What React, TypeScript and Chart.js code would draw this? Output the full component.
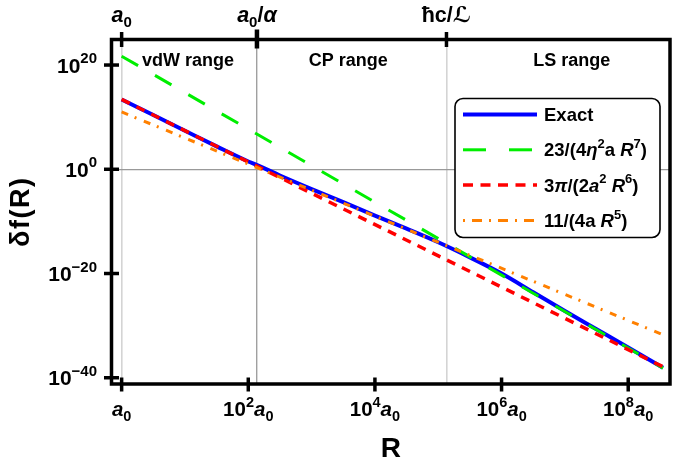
import { useEffect, useRef } from "react";
import { Chart, registerables } from "chart.js";

Chart.register(...registerables);

// ---- data (log10 values: x = log10(R/a0), y = log10 δf) ----
const exactLogR = [0, 0.5, 1, 1.5, 2, 2.14, 2.5, 3, 3.5, 4, 4.5, 5, 5.5, 6, 6.5, 7, 7.5, 8, 8.55];
const exactLogF = [13.4, 10.4, 7.4, 4.4, 1.5, 0.8, -1.2, -3.8, -6.3, -8.9, -11.4, -14.0, -16.9, -20.0, -23.6, -27.2, -30.7, -34.2, -38.1];
const lsLogR = [0, 8.55];
const lsLogF = [21.7, -38.15];
const vdwLogR = [0, 8.55];
const vdwLogF = [13.4, -37.9];
const cpLogR = [0, 8.55];
const cpLogF = [11.0, -31.75];

const bottomTickExps = [0, 2, 4, 6, 8];
const leftTickExps = [-40, -20, 0, 20];
const topTickValues = [0, 2.137, 5.13];
const rangeNames = ["vdW range", "CP range", "LS range"];
const rangeCentersLogR = [1.05, 3.58, 7.11];
const rangeLabelLogF = 21.0;

type Seg = { t: string; it?: boolean; sup?: boolean; sub?: boolean };

const topTickLabels: Seg[][] = [
  [{ t: "a", it: true }, { t: "0", sub: true }],
  [{ t: "a", it: true }, { t: "0", sub: true }, { t: "/" }, { t: "α", it: true }],
  [{ t: "ħc/ℒ" }],
];

const legendLabels: Seg[][] = [
  [{ t: "Exact" }],
  [{ t: "23/(4" }, { t: "η", it: true }, { t: "2", sup: true }, { t: "a " }, { t: "R", it: true }, { t: "7", sup: true }, { t: ")" }],
  [{ t: "3" }, { t: "π", it: true }, { t: "/(2" }, { t: "a", it: true }, { t: "2", sup: true }, { t: " " }, { t: "R", it: true }, { t: "6", sup: true }, { t: ")" }],
  [{ t: "11/(4a " }, { t: "R", it: true }, { t: "5", sup: true }, { t: ")" }],
];

const seriesColors = ["#0000ff", "#00ee00", "#ff0000", "#ff8000"];
const seriesWidths = [4, 3, 3.5, 3];
const seriesDash: number[][] = [[], [19, 19.5], [9, 7.5], [7, 7, 2, 8]];
const legendDash: number[][] = [[], [23, 23], [10, 7.5], [2, 7, 10, 7]];

const FAMILY = "'Liberation Sans', 'DejaVu Sans', sans-serif";

function segFont(s: Seg, size: number, small: number) {
  return `${s.it ? "italic " : ""}bold ${s.sup || s.sub ? small : size}px ${FAMILY}`;
}

function drawRich(
  ctx: CanvasRenderingContext2D,
  segs: Seg[],
  x: number,
  y: number,
  align: "left" | "center" | "right",
  size = 18,
  small = 13
) {
  ctx.save();
  ctx.textAlign = "left";
  ctx.textBaseline = "alphabetic";
  const widths = segs.map((s) => {
    ctx.font = segFont(s, size, small);
    return ctx.measureText(s.t).width;
  });
  const total = widths.reduce((a, b) => a + b, 0);
  let cx = align === "center" ? x - total / 2 : align === "right" ? x - total : x;
  const up = size * 0.45;
  const down = size * 0.25;
  segs.forEach((s, i) => {
    ctx.font = segFont(s, size, small);
    const dy = s.sup ? -up : s.sub ? down : 0;
    ctx.fillText(s.t, cx, y + dy);
    cx += widths[i];
  });
  ctx.restore();
}

const toPts = (xs: number[], ys: number[]) => xs.map((x, i) => ({ x, y: ys[i] }));

const decorPlugin = {
  id: "decor",
  afterDatasetsDraw(chart: any) {
    const ctx: CanvasRenderingContext2D = chart.ctx;
    const { left, right, top, bottom } = chart.chartArea;
    const xs = chart.scales.x;
    const ys = chart.scales.y;
    ctx.save();
    ctx.fillStyle = "#000";
    ctx.strokeStyle = "#000";

    // range labels
    rangeNames.forEach((name, i) => {
      drawRich(ctx, [{ t: name }], xs.getPixelForValue(rangeCentersLogR[i]), ys.getPixelForValue(rangeLabelLogF) + 6, "center");
    });

    // legend
    const lw = 205, lh = 139;
    const lx = right - 10 - lw;
    const ly = top + 59;
    ctx.beginPath();
    ctx.roundRect(lx, ly, lw, lh, 8);
    ctx.fillStyle = "#fff";
    ctx.fill();
    ctx.lineWidth = 1.6;
    ctx.strokeStyle = "#000";
    ctx.stroke();
    legendLabels.forEach((lab, i) => {
      const cy = ly + 16 + i * 35.3;
      ctx.save();
      ctx.beginPath();
      ctx.setLineDash(legendDash[i]);
      ctx.lineWidth = seriesWidths[i];
      ctx.strokeStyle = seriesColors[i];
      ctx.moveTo(lx + 8, cy);
      ctx.lineTo(lx + 82, cy);
      ctx.stroke();
      ctx.restore();
      ctx.fillStyle = "#000";
      drawRich(ctx, lab, lx + 89, cy + 6.5, "left", 18.5, 13);
    });

    // frame
    ctx.setLineDash([]);
    ctx.lineWidth = 3.5;
    ctx.strokeStyle = "#000";
    ctx.strokeRect(left, top, right - left, bottom - top);

    // bottom ticks + labels
    bottomTickExps.forEach((e) => {
      const px = xs.getPixelForValue(e);
      ctx.lineWidth = 3.5;
      ctx.beginPath();
      ctx.moveTo(px, bottom - 6.5);
      ctx.lineTo(px, bottom + 7.5);
      ctx.stroke();
      const segs: Seg[] =
        e === 0
          ? [{ t: "a", it: true }, { t: "0", sub: true }]
          : [{ t: "10" }, { t: String(e), sup: true }, { t: "a", it: true }, { t: "0", sub: true }];
      drawRich(ctx, segs, px, bottom + 32, "center", 20.5, 14.5);
    });

    // left ticks + labels
    leftTickExps.forEach((e) => {
      const py = ys.getPixelForValue(e);
      ctx.lineWidth = 3.5;
      ctx.beginPath();
      ctx.moveTo(left - 7.5, py);
      ctx.lineTo(left + 7.5, py);
      ctx.stroke();
      const sup = e < 0 ? "\u2212" + String(-e) : String(e);
      drawRich(ctx, [{ t: "10" }, { t: sup, sup: true }], left - 14.5, py + 7.5, "right", 21, 15);
    });

    // top ticks + labels
    topTickValues.forEach((v, i) => {
      const px = xs.getPixelForValue(v);
      const big = i === 1;
      ctx.lineWidth = big ? 4.5 : 3.5;
      ctx.beginPath();
      ctx.moveTo(px, top - (big ? 10 : 7.5));
      ctx.lineTo(px, top + (big ? 9 : 7.5));
      ctx.stroke();
      drawRich(ctx, topTickLabels[i], px, top - 18, "center", 21.5, 15);
    });

    // axis titles
    ctx.fillStyle = "#000";
    ctx.font = `bold 28px ${FAMILY}`;
    ctx.textAlign = "center";
    ctx.textBaseline = "alphabetic";
    ctx.fillText("R", (left + right) / 2, 457);

    ctx.save();
    ctx.translate(29, (top + bottom) / 2);
    ctx.rotate(-Math.PI / 2);
    ctx.font = `bold 27px ${FAMILY}`;
    (ctx as any).letterSpacing = "1.5px";
    ctx.textAlign = "center";
    ctx.fillText("δf(R)", 0, 0);
    ctx.restore();

    ctx.restore();
  },
};

export default function App() {
  const ref = useRef<HTMLCanvasElement>(null);
  useEffect(() => {
    const canvas = ref.current!;
    const chart = new Chart(canvas, {
      type: "line",
      data: {
        datasets: [
          { label: "Exact", data: toPts(exactLogR, exactLogF), borderColor: seriesColors[0], borderWidth: seriesWidths[0], borderDash: seriesDash[0], pointRadius: 0, order: 4, cubicInterpolationMode: "monotone" },
          { label: "23/(4η²a R⁷)", data: toPts(lsLogR, lsLogF), borderColor: seriesColors[1], borderWidth: seriesWidths[1], borderDash: seriesDash[1], pointRadius: 0, order: 3 },
          { label: "3π/(2a² R⁶)", data: toPts(vdwLogR, vdwLogF), borderColor: seriesColors[2], borderWidth: seriesWidths[2], borderDash: seriesDash[2], pointRadius: 0, order: 2 },
          { label: "11/(4a R⁵)", data: toPts(cpLogR, cpLogF), borderColor: seriesColors[3], borderWidth: seriesWidths[3], borderDash: seriesDash[3], pointRadius: 0, order: 1 },
        ] as any,
      },
      options: {
        responsive: false,
        animation: false,
        events: [],
        layout: { padding: { left: 0, right: 3, top: 0, bottom: 0 } },
        plugins: { legend: { display: false }, tooltip: { enabled: false } },
        scales: {
          x: {
            type: "linear",
            position: "bottom",
            min: -0.16,
            max: 8.66,
            grid: { display: false },
            border: { display: false },
            ticks: { display: false },
            afterBuildTicks: (s: any) => { s.ticks = bottomTickExps.map((v) => ({ value: v })); },
            afterFit: (s: any) => { s.height = 81; },
          },
          xTop: {
            type: "linear",
            position: "top",
            min: -0.16,
            max: 8.66,
            grid: {
              drawOnChartArea: true,
              drawTicks: false,
              color: (c: any) => (c.index === 1 ? "#a0a0a0" : "#d4d4d4"),
              lineWidth: (c: any) => (c.index === 1 ? 1.4 : 1.6),
            },
            border: { display: false },
            ticks: { display: false },
            afterBuildTicks: (s: any) => { s.ticks = topTickValues.map((v) => ({ value: v })); },
            afterFit: (s: any) => { s.height = 39.5; },
          },
          y: {
            type: "linear",
            min: -41.2,
            max: 24.9,
            grid: {
              drawTicks: false,
              color: (c: any) => (c.tick && c.tick.value === 0 ? "#999999" : "rgba(0,0,0,0)"),
              lineWidth: 1.2,
            },
            border: { display: false },
            ticks: { display: false },
            afterBuildTicks: (s: any) => { s.ticks = leftTickExps.map((v) => ({ value: v })); },
            afterFit: (s: any) => { s.width = 111.5; },
          },
        },
      } as any,
      plugins: [decorPlugin],
    });
    return () => chart.destroy();
  }, []);
  return (
    <div style={{ position: "fixed", left: 0, top: 0, width: 673, height: 465, background: "#fff" }}>
      <canvas ref={ref} width={673} height={465} style={{ display: "block", width: 673, height: 465 }} />
    </div>
  );
}
